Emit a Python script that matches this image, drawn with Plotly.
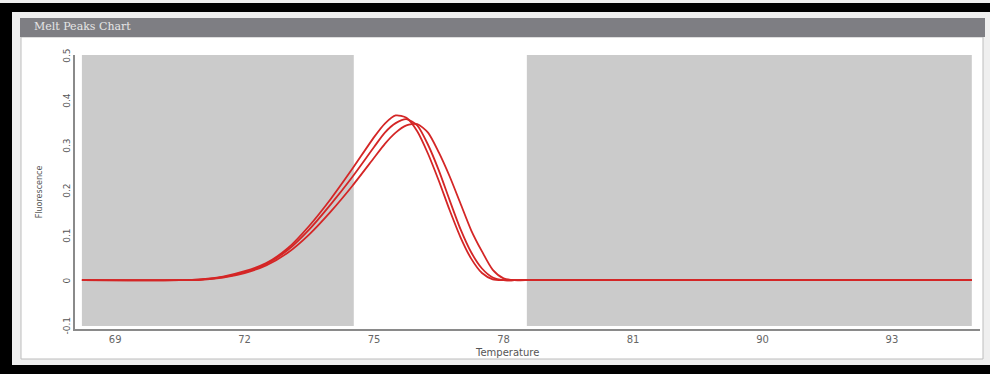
import plotly.graph_objects as go

# ---- data ----
temperature = [68.23, 70.5, 71.0, 71.5, 72.0, 72.5, 73.0, 73.5, 74.0, 74.5, 75.0, 75.25,
               75.5, 75.75, 76.0, 76.25, 76.5, 76.75, 77.0, 77.25, 77.5, 77.75, 78.0,
               78.25, 78.5, 88.85]
sample_a = [0.004, 0.004, 0.006, 0.012, 0.024, 0.042, 0.075, 0.125, 0.185, 0.252, 0.322, 0.352,
            0.370, 0.365, 0.335, 0.285, 0.225, 0.160, 0.100, 0.052, 0.020, 0.006, 0.004,
            0.004, 0.004, 0.004]
sample_b = [0.004, 0.004, 0.006, 0.011, 0.022, 0.040, 0.071, 0.117, 0.173, 0.234, 0.300, 0.332,
            0.353, 0.362, 0.348, 0.305, 0.248, 0.182, 0.118, 0.066, 0.030, 0.010, 0.004,
            0.004, 0.004, 0.004]
sample_c = [0.004, 0.004, 0.005, 0.010, 0.020, 0.037, 0.065, 0.106, 0.157, 0.214, 0.276, 0.307,
            0.332, 0.348, 0.351, 0.332, 0.288, 0.235, 0.175, 0.115, 0.068, 0.027, 0.008,
            0.004, 0.004, 0.004]

x_tick_pos = [69, 72, 75, 78, 81, 84, 87]
x_tick_labels = ["69", "72", "75", "78", "81", "90", "93"]
y_tick_vals = [-0.1, 0, 0.1, 0.2, 0.3, 0.4, 0.5]
y_tick_labels = ["-0.1", "0", "0.1", "0.2", "0.3", "0.4", "0.5"]

excluded_regions = [(68.23, 74.53), (78.54, 88.85)]

# ---- figure ----
W, H = 990, 374
ML, MR, MT, MB = 75, 10, 55, 45
PW, PH = W - ML - MR, H - MT - MB


def px(x):
    return (x - ML) / PW


def py(y):
    return (H - MB - y) / PH


fig = go.Figure()
for ys in (sample_a, sample_b, sample_c):
    fig.add_trace(go.Scatter(x=temperature, y=ys, mode="lines",
                             line=dict(color="#d42626", width=1.8, shape="spline", smoothing=0.7),
                             hoverinfo="skip", showlegend=False))

shapes = [
    # black frame (top, left, bottom)
    dict(type="rect", xref="paper", yref="paper", x0=px(0), x1=px(W), y0=py(3), y1=py(12),
         fillcolor="black", line=dict(width=0), layer="below"),
    dict(type="rect", xref="paper", yref="paper", x0=px(0), x1=px(12), y0=py(3), y1=py(H),
         fillcolor="black", line=dict(width=0), layer="below"),
    dict(type="rect", xref="paper", yref="paper", x0=px(0), x1=px(W), y0=py(365), y1=py(H),
         fillcolor="black", line=dict(width=0), layer="below"),
    # outer panel
    dict(type="rect", xref="paper", yref="paper", x0=px(12), x1=px(W), y0=py(12), y1=py(365),
         fillcolor="#efefef", line=dict(width=0), layer="below"),
    # inner panel
    dict(type="rect", xref="paper", yref="paper", x0=px(21), x1=px(983), y0=py(37), y1=py(359),
         fillcolor="white", line=dict(color="#bdbdbd", width=1), layer="below"),
    # title bar
    dict(type="rect", xref="paper", yref="paper", x0=px(20), x1=px(985), y0=py(18), y1=py(37),
         fillcolor="#7e7e83", line=dict(width=0), layer="below"),
]
for x0, x1 in excluded_regions:
    shapes.append(dict(type="rect", xref="x", yref="y", x0=x0, x1=x1, y0=-0.098, y1=0.5044,
                       fillcolor="#cbcbcb", line=dict(width=0), layer="below"))

fig.update_layout(
    width=W, height=H,
    margin=dict(l=ML, r=MR, t=MT, b=MB),
    paper_bgcolor="#efefef",
    plot_bgcolor="white",
    shapes=shapes,
    font=dict(family="DejaVu Sans", color="#555555"),
    xaxis=dict(range=[68.07, 89.04], tickvals=x_tick_pos, ticktext=x_tick_labels,
               showgrid=False, zeroline=False, showline=True, linecolor="#8a8a8a", linewidth=1.5,
               ticks="", tickfont=dict(size=10, color="#666666")),
    yaxis=dict(range=[-0.1044, 0.5044], tickvals=y_tick_vals, ticktext=y_tick_labels,
               showgrid=False, zeroline=False, showline=True, linecolor="#8a8a8a", linewidth=1.5,
               ticks="", tickangle=-90, tickfont=dict(size=9, color="#555555"),
               title=dict(text="Fluorescence", font=dict(size=8, color="#555555"), standoff=18)),
    annotations=[
        dict(text="Melt Peaks Chart", xref="paper", yref="paper", x=px(32), y=py(27),
             xanchor="left", yanchor="middle", showarrow=False,
             font=dict(family="DejaVu Serif", size=11, color="#e6e6e6")),
        dict(text="Temperature", xref="paper", yref="paper", x=px(507), y=py(352),
             xanchor="center", yanchor="middle", showarrow=False,
             font=dict(size=10, color="#555555")),
    ],
)

fig.write_html("out.html", config={"displayModeBar": False},
               post_script="document.body.style.margin='0';document.body.style.overflow='hidden';")
